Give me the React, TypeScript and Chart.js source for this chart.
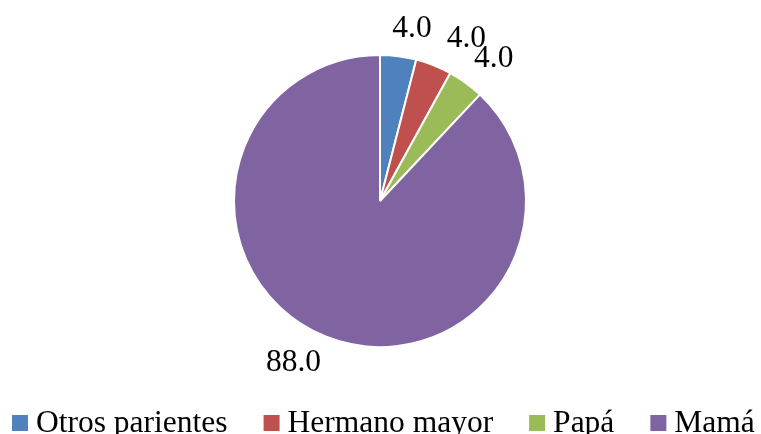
import React, { useEffect, useRef } from "react";
import { Chart, registerables } from "chart.js";

Chart.register(...registerables);

const categories = ["Otros parientes", "Hermano mayor", "Papá", "Mamá"];
const values = [4.0, 4.0, 4.0, 88.0];
const colors = ["#4F81BD", "#C0504D", "#9BBB59", "#8064A2"];

const FONT = "31.5px 'Liberation Serif', 'Times New Roman', serif";

const labelPlugin = {
  id: "sliceLabels",
  afterDatasetsDraw(chart: any) {
    const { ctx } = chart;
    const meta = chart.getDatasetMeta(0);
    ctx.save();
    ctx.font = FONT;
    ctx.fillStyle = "#000";
    // compute label boxes: nearest corner touches a point just outside the slice
    const boxes = meta.data.map((arc: any, i: number) => {
      const { x, y, startAngle, endAngle, outerRadius } = arc.getProps(
        ["x", "y", "startAngle", "endAngle", "outerRadius"],
        true
      );
      const text = values[i].toFixed(1);
      const w = ctx.measureText(text).width;
      const mid = (startAngle + endAngle) / 2;
      const r = outerRadius + 14;
      const px = x + Math.cos(mid) * r;
      const py = y + Math.sin(mid) * r;
      const left = Math.cos(mid) >= 0 ? px : px - w;
      const baseline = Math.sin(mid) < 0 ? py - 5 : py + 21;
      return { text, w, left, baseline };
    });
    // resolve horizontal overlaps of neighbouring labels on similar rows
    const minGap = 15;
    for (let i = 1; i < boxes.length; i++) {
      const a = boxes[i - 1];
      const b = boxes[i];
      if (Math.abs(a.baseline - b.baseline) < 16) {
        const overlap = a.left + a.w + minGap - b.left;
        if (overlap > 0) {
          a.left -= overlap / 2;
          b.left += overlap / 2;
        }
      }
    }
    ctx.textAlign = "left";
    ctx.textBaseline = "alphabetic";
    boxes.forEach((b: any) => ctx.fillText(b.text, b.left, b.baseline));
    ctx.restore();
  },
};

const legendPlugin = {
  id: "customLegend",
  afterDraw(chart: any) {
    const { ctx } = chart;
    ctx.save();
    ctx.font = FONT;
    const box = 16;
    const gapBoxText = 8;
    const itemGap = 36;
    let x = 12;
    const baseline = 432;
    categories.forEach((c, i) => {
      ctx.fillStyle = colors[i];
      ctx.fillRect(x, baseline - 17, box, box);
      x += box + gapBoxText;
      ctx.fillStyle = "#000";
      ctx.textAlign = "left";
      ctx.textBaseline = "alphabetic";
      ctx.fillText(c, x, baseline);
      x += ctx.measureText(c).width + itemGap;
    });
    ctx.restore();
  },
};

export default function App() {
  const canvasRef = useRef<HTMLCanvasElement | null>(null);

  useEffect(() => {
    document.body.style.margin = "0";
    const canvas = canvasRef.current;
    if (!canvas) return;
    const chart = new Chart(canvas, {
      type: "pie",
      data: {
        labels: categories,
        datasets: [
          {
            data: values,
            backgroundColor: colors,
            borderColor: "#ffffff",
            borderWidth: 2,
          },
        ],
      },
      options: {
        responsive: false,
        animation: false,
        layout: {
          padding: { top: 54, bottom: 86, left: 233, right: 234 },
        },
        plugins: {
          legend: { display: false },
          tooltip: { enabled: false },
        },
      },
      plugins: [labelPlugin, legendPlugin],
    });
    return () => chart.destroy();
  }, []);

  return (
    <div style={{ width: 761, height: 434, background: "#fff" }}>
      <canvas ref={canvasRef} width={761} height={434} />
    </div>
  );
}
